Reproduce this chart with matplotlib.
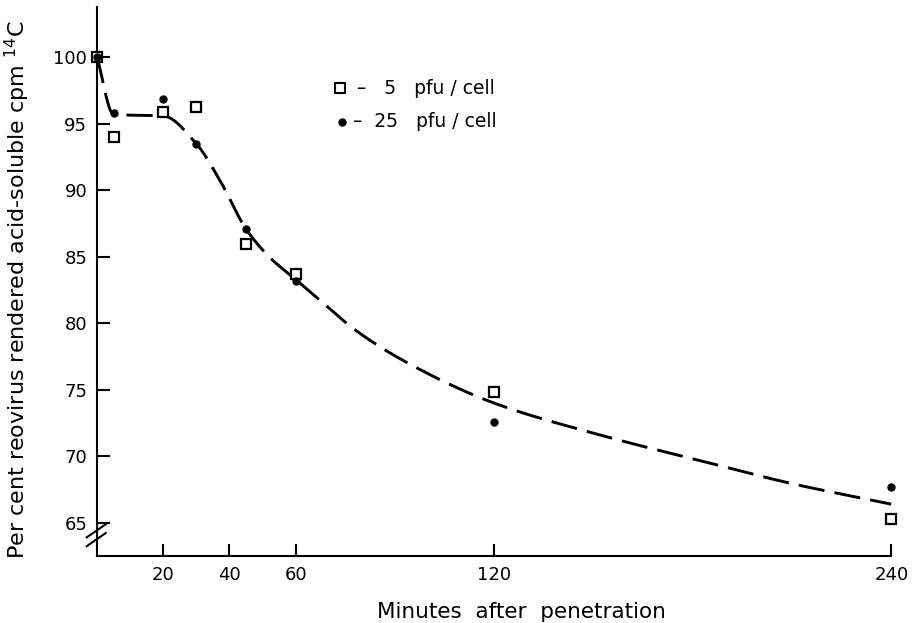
import matplotlib
matplotlib.use('Agg')

import matplotlib.pyplot as plt
import numpy as np

# release of 14C label from reovirus after penetration
minutes_5pfu = [0, 5, 20, 30, 45, 60, 120, 240]
percent_5pfu = [100, 94.0, 95.9, 96.3, 86.0, 83.7, 74.8, 65.3]

minutes_25pfu = [0, 5, 20, 30, 45, 60, 120, 240]
percent_25pfu = [100, 95.8, 96.9, 93.5, 87.1, 83.2, 72.6, 67.7]

# hand-drawn trend line through the points
curve_minutes = [0, 5, 20, 30, 37, 45, 52, 60, 68, 78, 94, 120, 152, 185, 209, 240]
curve_percent = [100, 95.7, 95.6, 93.5, 90.8, 87.1, 85.0, 83.3, 81.6, 79.5, 77.0, 74.0, 71.6, 69.5, 68.0, 66.4]

x_ticks = [20, 40, 60, 120, 240]
y_ticks = [65, 70, 75, 80, 85, 90, 95, 100]


def pchip(x, y, xs):
    # monotone cubic hermite, keeps the curve from overshooting the knots
    x = np.asarray(x, float)
    y = np.asarray(y, float)
    h = np.diff(x)
    d = np.diff(y) / h
    m = np.zeros_like(y)
    for k in range(1, len(x) - 1):
        if d[k - 1] * d[k] > 0:
            w1 = 2 * h[k] + h[k - 1]
            w2 = h[k] + 2 * h[k - 1]
            m[k] = (w1 + w2) / (w1 / d[k - 1] + w2 / d[k])
    m[0] = d[0]
    m[-1] = d[-1]
    idx = np.clip(np.searchsorted(x, xs) - 1, 0, len(x) - 2)
    t = (xs - x[idx]) / h[idx]
    h00 = 2 * t**3 - 3 * t**2 + 1
    h10 = t**3 - 2 * t**2 + t
    h01 = -2 * t**3 + 3 * t**2
    h11 = t**3 - t**2
    return h00 * y[idx] + h10 * h[idx] * m[idx] + h01 * y[idx + 1] + h11 * h[idx] * m[idx + 1]


plt.rcParams['font.family'] = 'DejaVu Sans'

fig = plt.figure(figsize=(9.16, 6.23), dpi=100)
ax = fig.add_axes([0.106, 0.1075, 0.867, 0.8815])

xs = np.linspace(0, 240, 600)
ax.plot(xs, pchip(curve_minutes, curve_percent, xs), color='black', lw=2.1,
        linestyle=(0, (9, 3.5)), clip_on=False)

ax.plot(minutes_5pfu, percent_5pfu, 's', ms=7.5, mfc='white', mec='black', mew=1.6,
        linestyle='none', clip_on=False, zorder=3)
ax.plot(minutes_25pfu, percent_25pfu, 'o', ms=5, color='black',
        linestyle='none', clip_on=False, zorder=4)

ax.set_xlim(0, 240)
ax.set_ylim(62.5, 103.8)
ax.set_xticks(x_ticks)
ax.set_yticks(y_ticks)
ax.tick_params(direction='in', length=9, width=1.5, labelsize=13, pad=7)

for side in ['top', 'right']:
    ax.spines[side].set_visible(False)
for side in ['left', 'bottom']:
    ax.spines[side].set_linewidth(1.5)

# break marks on the y axis below 65
for dy in [0.0, 0.016]:
    ax.plot([-0.013, 0.011], [0.018 + dy, 0.042 + dy], color='black', lw=1.5,
            transform=ax.transAxes, clip_on=False)

ax.set_xlabel('Minutes  after  penetration', fontsize=15.5)
ax.xaxis.set_label_coords(0.534, -0.084)
ax.set_ylabel('Per cent reovirus rendered acid-soluble cpm $^{14}$C', fontsize=16)
ax.yaxis.set_label_coords(-0.082, 0.485)

# key
ax.plot([0.306], [0.852], 's', ms=7, mfc='white', mec='black', mew=1.5,
        transform=ax.transAxes, clip_on=False)
ax.plot([0.309], [0.791], 'o', ms=5, color='black',
        transform=ax.transAxes, clip_on=False)
ax.text(0.327, 0.852, '–   5   pfu / cell', fontsize=13.5, va='center', transform=ax.transAxes)
ax.text(0.322, 0.791, '–  25   pfu / cell', fontsize=13.5, va='center', transform=ax.transAxes)

fig.savefig('out.png', dpi=100)
